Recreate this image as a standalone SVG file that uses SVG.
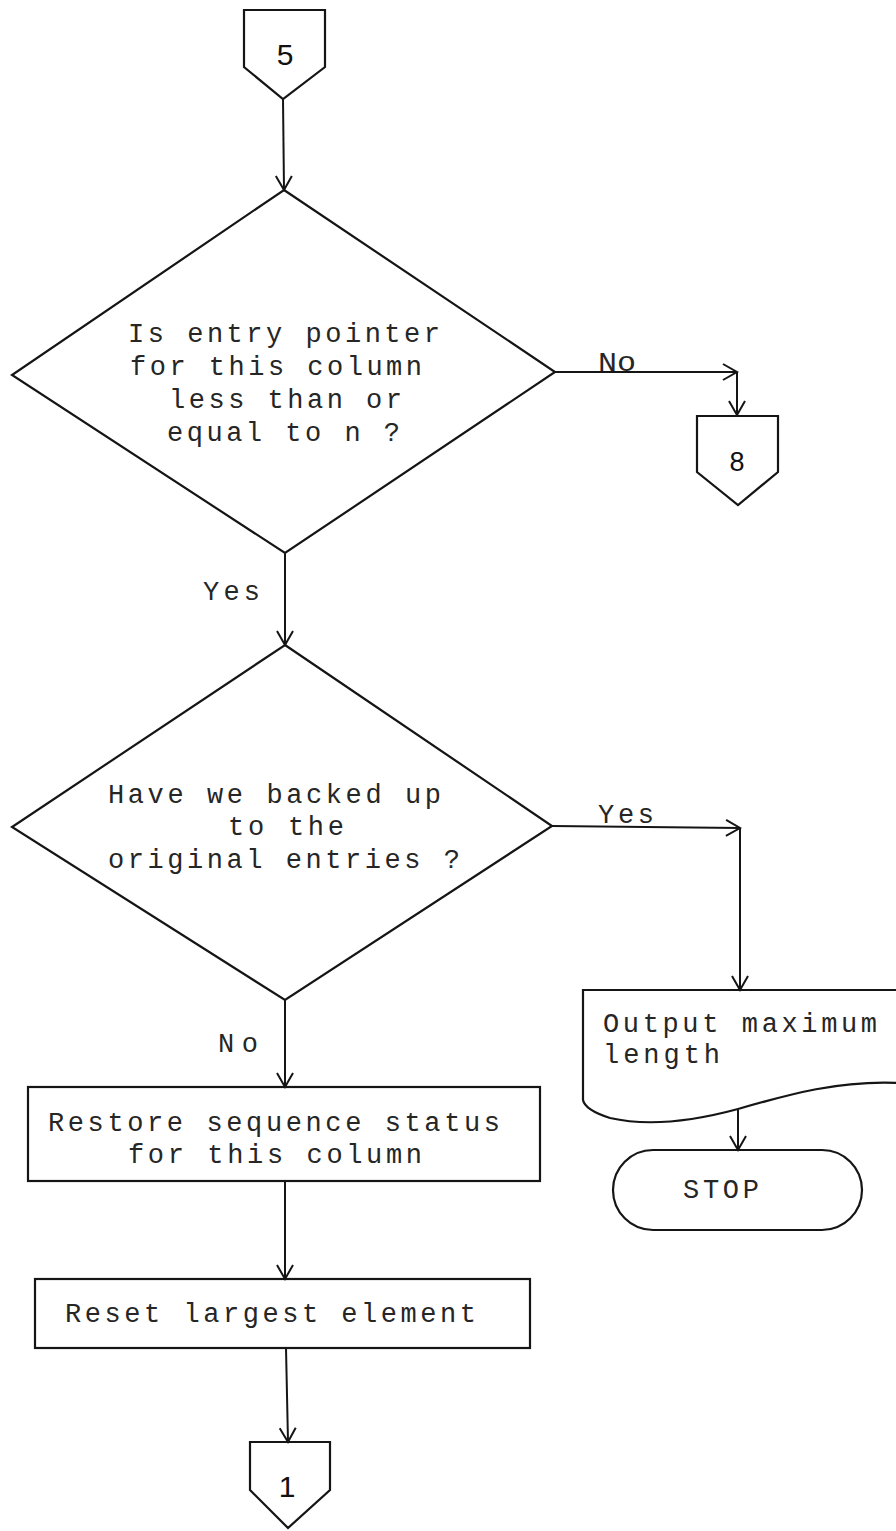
<svg xmlns="http://www.w3.org/2000/svg" width="896" height="1531" viewBox="0 0 896 1531">
  <style>
    .shape { fill: none; stroke: #151515; stroke-width: 2.2; stroke-linejoin: miter; }
    .wire { fill: none; stroke: #151515; stroke-width: 2; }
    .t { font-family: "Liberation Mono", "DejaVu Sans Mono", monospace; font-size: 27px; fill: #262626; }
    .num { font-family: "Liberation Sans", Arial, sans-serif; font-size: 30px; fill: #111; text-anchor: middle; }
  </style>
  <defs>
    <marker id="arrow" viewBox="0 0 20 20" refX="18" refY="10" markerWidth="20" markerHeight="20" markerUnits="userSpaceOnUse" orient="auto">
      <polyline points="4,2 18,10 4,18" fill="none" stroke="#151515" stroke-width="2"/>
    </marker>
  </defs>
  <rect width="896" height="1531" fill="#ffffff"/>

  <!-- connectors -->
  <g id="connectors">
    <line class="wire" x1="283" y1="99" x2="284" y2="190" marker-end="url(#arrow)"/>
    <line class="wire" x1="285" y1="553" x2="285" y2="645" marker-end="url(#arrow)"/>
    <line class="wire" x1="555" y1="372" x2="737" y2="372" marker-end="url(#arrow)"/>
    <line class="wire" x1="737" y1="372" x2="737" y2="415" marker-end="url(#arrow)"/>
    <line class="wire" x1="552" y1="826" x2="740" y2="828" marker-end="url(#arrow)"/>
    <line class="wire" x1="740" y1="828" x2="740" y2="990" marker-end="url(#arrow)"/>
    <line class="wire" x1="285" y1="1000" x2="285" y2="1087" marker-end="url(#arrow)"/>
    <line class="wire" x1="285" y1="1181" x2="285" y2="1279" marker-end="url(#arrow)"/>
    <line class="wire" x1="286" y1="1348" x2="288" y2="1442" marker-end="url(#arrow)"/>
    <line class="wire" x1="738" y1="1110" x2="738" y2="1150" marker-end="url(#arrow)"/>
    <text class="t" x="598" y="371" textLength="38" lengthAdjust="spacingAndGlyphs">No</text>
    <text class="t" x="203" y="600" textLength="57" lengthAdjust="spacing">Yes</text>
    <text class="t" x="598" y="823" textLength="56" lengthAdjust="spacing">Yes</text>
    <text class="t" x="218" y="1052" textLength="40" lengthAdjust="spacing">No</text>
  </g>

  <!-- off-page connector 5 -->
  <g id="conn5">
    <polygon class="shape" points="244,10 325,10 325,67 283,99 244,67"/>
    <text class="num" x="285" y="65">5</text>
  </g>

  <!-- decision: entry pointer -->
  <g id="decision1">
    <polygon class="shape" points="284,190 555,372 285,553 12,375"/>
    <text class="t" x="128" y="342" textLength="312" lengthAdjust="spacing">Is entry pointer</text>
    <text class="t" x="130" y="375" textLength="292" lengthAdjust="spacing">for this column</text>
    <text class="t" x="169" y="408" textLength="233" lengthAdjust="spacing">less than or</text>
    <text class="t" x="167" y="441" textLength="233" lengthAdjust="spacing">equal to n ?</text>
  </g>

  <!-- off-page connector 8 -->
  <g id="conn8">
    <polygon class="shape" points="697,416 778,416 778,472 738,505 697,472"/>
    <text class="num" x="737" y="471" style="font-size:27px">8</text>
  </g>

  <!-- decision: backed up -->
  <g id="decision2">
    <polygon class="shape" points="285,645 552,826 285,1000 12,827"/>
    <text class="t" x="108" y="803" textLength="333" lengthAdjust="spacing">Have we backed up</text>
    <text class="t" x="228" y="835" textLength="116" lengthAdjust="spacing">to the</text>
    <text class="t" x="108" y="868" textLength="352" lengthAdjust="spacing">original entries ?</text>
  </g>

  <!-- output document -->
  <g id="output">
    <path class="shape" d="M583,990 H900 V1083 C840,1080 790,1094 738,1109 C690,1122 645,1126 610,1118 Q585,1110 583,1100 Z"/>
    <text class="t" x="603" y="1032" textLength="274" lengthAdjust="spacing">Output maximum</text>
    <text class="t" x="603" y="1063" textLength="117" lengthAdjust="spacing">length</text>
  </g>

  <!-- terminator -->
  <g id="stop">
    <rect class="shape" x="613" y="1150" width="249" height="80" rx="40" ry="40"/>
    <text class="t" x="683" y="1198" textLength="76" lengthAdjust="spacing">STOP</text>
  </g>

  <!-- process: restore -->
  <g id="restore">
    <rect class="shape" x="28" y="1087" width="512" height="94"/>
    <text class="t" x="48" y="1131" textLength="452" lengthAdjust="spacing">Restore sequence status</text>
    <text class="t" x="128" y="1163" textLength="294" lengthAdjust="spacing">for this column</text>
  </g>

  <!-- process: reset -->
  <g id="reset">
    <rect class="shape" x="35" y="1279" width="495" height="69"/>
    <text class="t" x="65" y="1322" textLength="411" lengthAdjust="spacing">Reset largest element</text>
  </g>

  <!-- off-page connector 1 -->
  <g id="conn1">
    <polygon class="shape" points="250,1442 330,1442 330,1490 288,1528 250,1490"/>
    <text class="num" x="287" y="1497">1</text>
  </g>
</svg>
